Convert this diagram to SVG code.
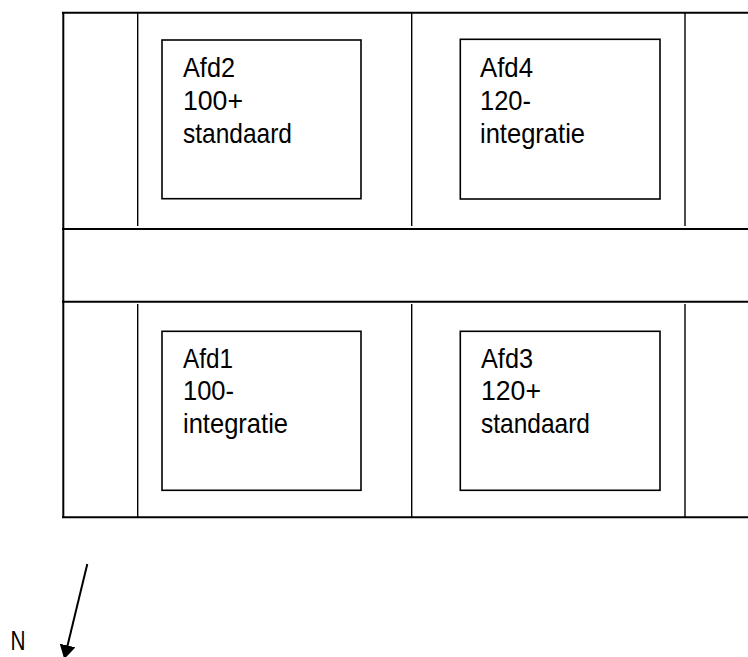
<svg xmlns="http://www.w3.org/2000/svg" width="748" height="657" viewBox="0 0 748 657">
<style>
.frame{stroke:#000;stroke-width:2;fill:none}
.wall{stroke:#000;stroke-width:1.4;fill:none}
.box{stroke:#000;stroke-width:1.6;fill:#fff}
.lbl{font-family:"Liberation Sans",Arial,sans-serif;font-size:28px;fill:#000}
</style>
<defs>
<marker id="ah" viewBox="0 0 14 16" refX="1" refY="8" markerWidth="14" markerHeight="16" markerUnits="userSpaceOnUse" orient="auto">
<path d="M0,0 L14,8 L0,16 z" fill="#000"/>
</marker>
</defs>
<rect width="748" height="657" fill="#fff"/>
<g id="plan">
<line class="frame" x1="62" y1="12.7" x2="748" y2="12.7"/>
<line class="frame" x1="63.3" y1="12" x2="63.3" y2="518"/>
<line class="frame" x1="62" y1="229" x2="748" y2="229"/>
<line class="frame" x1="62" y1="301.7" x2="748" y2="301.7"/>
<line class="frame" x1="62" y1="517.3" x2="748" y2="517.3"/>
<line class="wall" x1="137.7" y1="13" x2="137.7" y2="226"/>
<line class="wall" x1="411.7" y1="13" x2="411.7" y2="226"/>
<line class="wall" x1="685" y1="13" x2="685" y2="226"/>
<line class="wall" x1="137.7" y1="304" x2="137.7" y2="517"/>
<line class="wall" x1="411.7" y1="304" x2="411.7" y2="517"/>
<line class="wall" x1="685" y1="304" x2="685" y2="517"/>
</g>
<g id="afd2">
<rect class="box" x="162" y="40" width="199" height="158.7"/>
<text class="lbl"><tspan x="183" y="77" textLength="52" lengthAdjust="spacingAndGlyphs">Afd2</tspan><tspan x="183" y="110" textLength="60" lengthAdjust="spacingAndGlyphs">100+</tspan><tspan x="183" y="142.5" textLength="109" lengthAdjust="spacingAndGlyphs">standaard</tspan></text>
</g>
<g id="afd4">
<rect class="box" x="460.3" y="39.3" width="199.7" height="159.7"/>
<text class="lbl"><tspan x="480" y="77" textLength="53" lengthAdjust="spacingAndGlyphs">Afd4</tspan><tspan x="480" y="110" textLength="51" lengthAdjust="spacingAndGlyphs">120-</tspan><tspan x="480" y="142.5" textLength="105" lengthAdjust="spacingAndGlyphs">integratie</tspan></text>
</g>
<g id="afd1">
<rect class="box" x="162" y="331.3" width="199" height="159"/>
<text class="lbl"><tspan x="183" y="367.5" textLength="50" lengthAdjust="spacingAndGlyphs">Afd1</tspan><tspan x="183" y="400" textLength="51" lengthAdjust="spacingAndGlyphs">100-</tspan><tspan x="183" y="432.5" textLength="105" lengthAdjust="spacingAndGlyphs">integratie</tspan></text>
</g>
<g id="afd3">
<rect class="box" x="460.3" y="331.3" width="199.7" height="159"/>
<text class="lbl"><tspan x="481" y="367.5" textLength="52" lengthAdjust="spacingAndGlyphs">Afd3</tspan><tspan x="481" y="400" textLength="60" lengthAdjust="spacingAndGlyphs">120+</tspan><tspan x="481" y="432.5" textLength="109" lengthAdjust="spacingAndGlyphs">standaard</tspan></text>
</g>
<g id="connectors">
<line x1="87.3" y1="564" x2="67.3" y2="646.5" stroke="#000" stroke-width="2" marker-end="url(#ah)"/>
</g>
<g id="north">
<text class="lbl" x="10.5" y="650" textLength="15" lengthAdjust="spacingAndGlyphs">N</text>
</g>
</svg>
